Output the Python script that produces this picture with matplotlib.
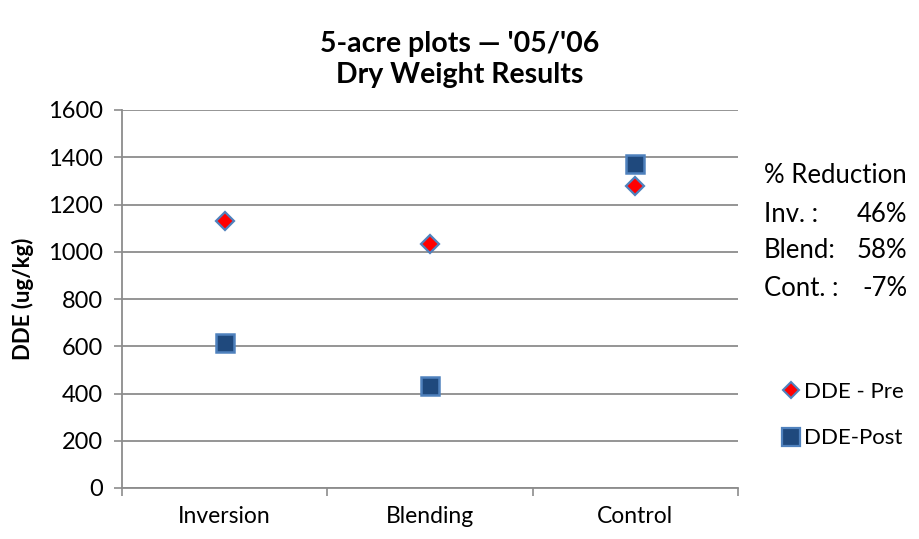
import matplotlib
matplotlib.use("Agg")
import matplotlib.pyplot as plt
from matplotlib.lines import Line2D

plt.rcParams['font.family'] = ['Lato', 'DejaVu Sans']

categories = ["Inversion", "Blending", "Control"]
dde_pre = [1130, 1032, 1278]
dde_post = [612, 433, 1370]
reduction_labels = ["Inv. :", "Blend:", "Cont. :"]
reduction_values = ["46%", "58%", "-7%"]
y_ticks = [0, 200, 400, 600, 800, 1000, 1200, 1400, 1600]

fig = plt.figure(figsize=(9.19, 5.39), dpi=100)
ax = fig.add_axes([122 / 919, 1 - 488 / 539, (738 - 122) / 919, (488 - 110) / 539])

x = list(range(len(categories)))
grid_col = "#8c8c8c"

ax.set_xlim(-0.5, len(categories) - 0.5)
ax.set_ylim(0, 1600)
ax.set_yticks(y_ticks)
ax.set_yticklabels([str(v) for v in y_ticks], fontsize=17)
ax.yaxis.grid(True, color=grid_col, linewidth=1.3)
ax.set_axisbelow(True)

ax.set_xticks(x)
ax.set_xticklabels(categories, fontsize=16.5)
ax.set_xticks([i - 0.5 for i in range(len(categories) + 1)], minor=True)
ax.tick_params(axis='x', which='major', length=0, pad=13)
ax.tick_params(axis='x', which='minor', length=6, color=grid_col, width=1.2)
ax.tick_params(axis='y', length=6, color=grid_col, width=1.2, pad=8)

for side in ("top", "right"):
    ax.spines[side].set_visible(False)
for side in ("left", "bottom"):
    ax.spines[side].set_color(grid_col)
    ax.spines[side].set_linewidth(1.3)

ax.plot(x, dde_pre, linestyle='none', marker='D', markersize=9,
        markerfacecolor='#ff0000', markeredgecolor='#4f81bd', markeredgewidth=1.6,
        zorder=3, clip_on=False)
ax.plot(x, dde_post, linestyle='none', marker='s', markersize=13,
        markerfacecolor='#1f497d', markeredgecolor='#4f81bd', markeredgewidth=1.8,
        zorder=3, clip_on=False)

ax.set_ylabel("DDE (ug/kg)", fontsize=16, fontweight='bold')
ax.yaxis.set_label_coords(-(122 - 34) / 616, 0.5)

fig.text(460 / 919, 1 - 44 / 539, "5-acre plots \u2014 '05/'06", ha='center', va='center',
         fontsize=20.5, fontweight='bold')
fig.text(460 / 919, 1 - 75 / 539, "Dry Weight Results", ha='center', va='center',
         fontsize=20.5, fontweight='bold')

# reduction summary
fig.text(764 / 919, 1 - 176 / 539, "% Reduction", ha='left', va='center', fontsize=18.5)
for i, (lab, val) in enumerate(zip(reduction_labels, reduction_values)):
    yy = 1 - (214 + i * 37) / 539
    fig.text(764 / 919, yy, lab, ha='left', va='center', fontsize=18.5)
    fig.text(907 / 919, yy, val, ha='right', va='center', fontsize=18.5)

handles = [
    Line2D([], [], linestyle='none', marker='D', markersize=8,
           markerfacecolor='#ff0000', markeredgecolor='#4f81bd', markeredgewidth=1.5),
    Line2D([], [], linestyle='none', marker='s', markersize=13,
           markerfacecolor='#1f497d', markeredgecolor='#4f81bd', markeredgewidth=1.6),
]
fig.legend(handles, ["DDE - Pre", "DDE-Post"], loc='center left',
           bbox_to_anchor=(771 / 919, 1 - 415 / 539), frameon=False, fontsize=16,
           handlelength=0.8, handletextpad=0.2, labelspacing=1.2, borderpad=0)

fig.savefig("out.png", dpi=100)
